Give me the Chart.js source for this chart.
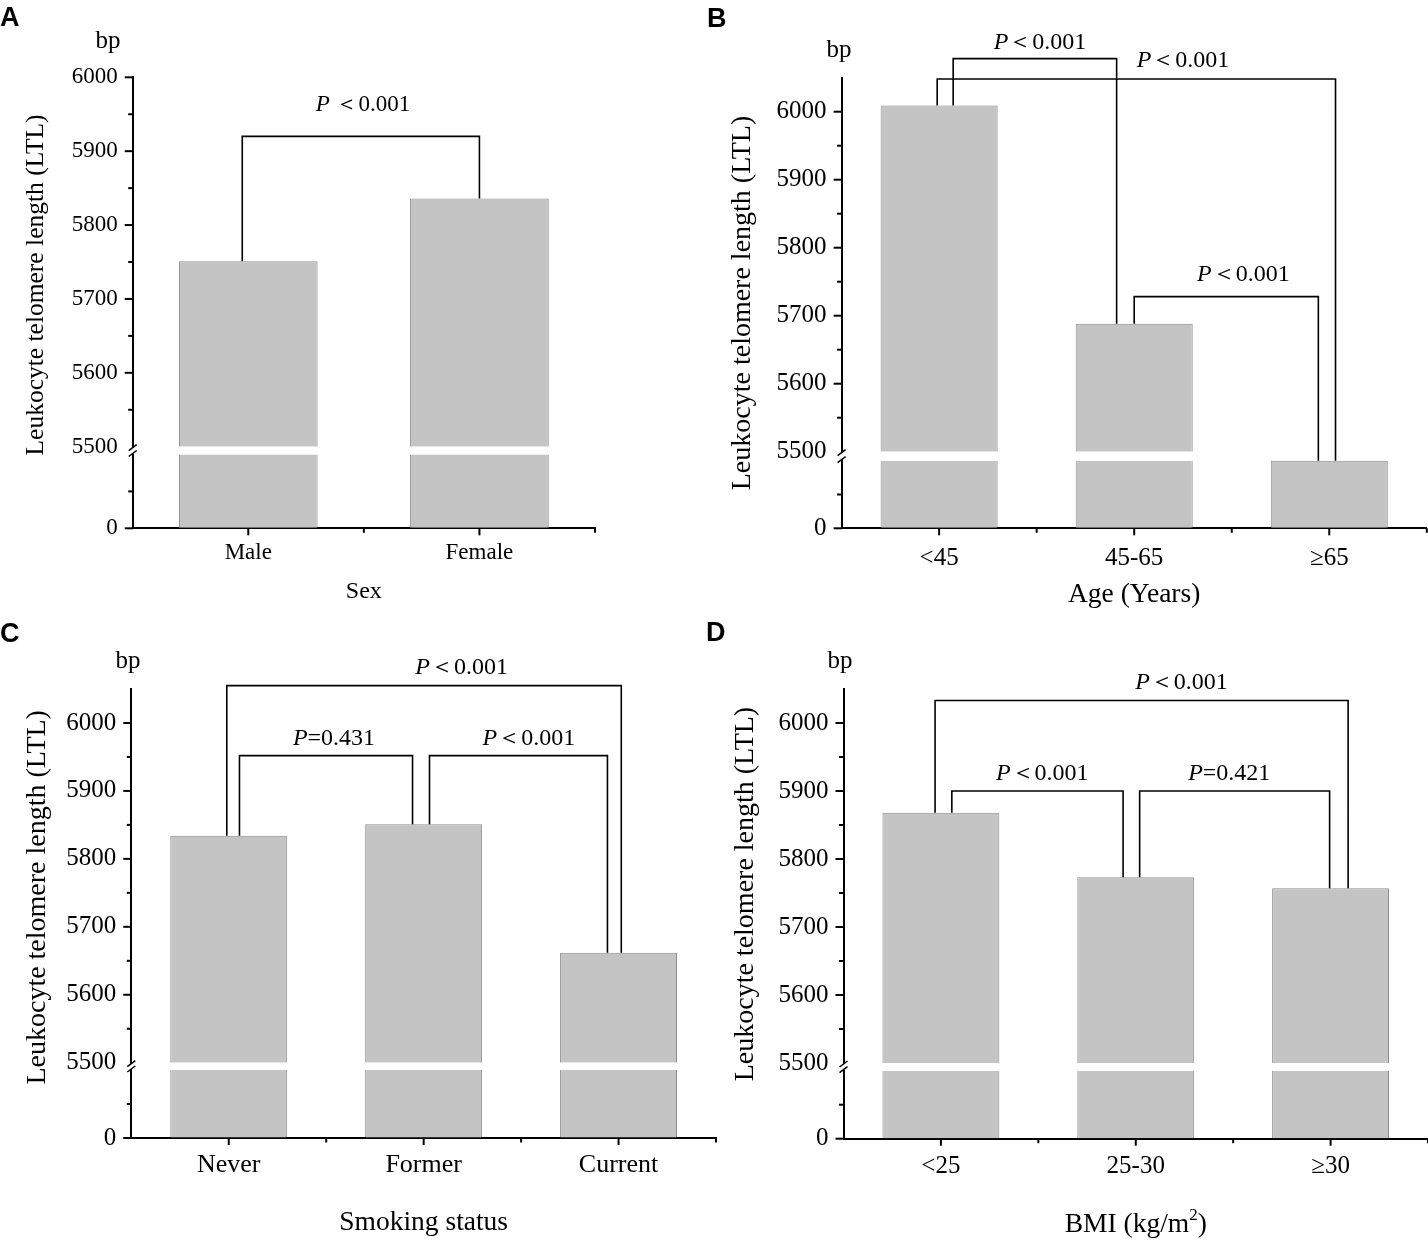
<!DOCTYPE html>
<html>
<head>
<meta charset="utf-8">
<title>Leukocyte telomere length</title>
<script src="https://cdn.jsdelivr.net/npm/chart.js@4.4.1/dist/chart.umd.min.js"></script>
<style>
  body { margin: 0; background: #fff; }
  #page { position: relative; width: 1428px; height: 1240px; background: #fff; overflow: hidden; }
  canvas { position: absolute; }
</style>
</head>
<body>
<div id="page">
  <canvas id="cA" width="700" height="620" style="left:0;top:0"></canvas>
  <canvas id="cB" width="728" height="620" style="left:700px;top:0"></canvas>
  <canvas id="cC" width="720" height="620" style="left:0;top:620px"></canvas>
  <canvas id="cD" width="728" height="620" style="left:700px;top:620px"></canvas>
</div>
<script>
// mean LTL (bp) per group
const sexLabels = ['Male', 'Female'];
const sexLTL = [5751, 5836];
const ageLabels = ['<45', '45-65', '≥65'];
const ageLTL = [6009, 5688, 5490];
const smokingLabels = ['Never', 'Former', 'Current'];
const smokingLTL = [5834, 5851, 5662];
const bmiLabels = ['<25', '25-30', '≥30'];
const bmiLTL = [5868, 5773, 5757];

// significance brackets: [group a, group b, bracket level (bp), label]
const sexTests = [[0, 1, 5920, 'P ＜0.001']];
const ageTests = [[0, 1, 6078, 'P＜0.001'], [0, 2, 6048, 'P＜0.001'], [1, 2, 5728, 'P＜0.001']];
const smokingTests = [[0, 2, 6055, 'P＜0.001'], [0, 1, 5952, 'P=0.431'], [1, 2, 5952, 'P＜0.001']];
const bmiTests = [[0, 2, 6033, 'P＜0.001'], [0, 1, 5900, 'P＜0.001'], [1, 2, 5900, 'P=0.421']];

// broken y axis
const breakAt = 5500;
const yMajorTicks = [5500, 5600, 5700, 5800, 5900, 6000];
const yMinorTicks = [5550, 5650, 5750, 5850, 5950];
const lowMajorTicks = [0];
const lowMinorTicks = [2750];

const FILL = '#c4c4c4';
const EDGE = '#8c8c8c';
const SERIF = "'Liberation Serif', 'Times New Roman', serif";
const AXIS_W = 100;

Chart.defaults.color = '#000';
Chart.defaults.font.family = SERIF;

const panels = [
  { id: 'cA', letter: 'A', letterPos: [0, 26], labels: sexLabels, values: sexLTL, tests: sexTests,
    xTitle: 'Sex', xTitleY: 598, top: 6000, lowMax: 6081, weights: [369.4, 81.6],
    padding: { left: 132.7 - AXIS_W, right: 105, top: 77.3, bottom: 31.7 },
    tickSize: 23, catSize: 23, catPad: 4, titleSize: 24, ySize: 25.5, yTitle: [96, 0.4605],
    bp: [-24.7, 48], pSize: 23,
    legs: [[-0.026, 0]], labelAt: [0.496], labelGap: [25] },
  { id: 'cB', letter: 'B', letterPos: [7, 27], labels: ageLabels, values: ageLTL, tests: ageTests,
    xTitle: 'Age (Years)', xTitleY: 602, top: 6050, lowMax: 6232, weights: [374, 76.6],
    padding: { left: 141.6 - AXIS_W, right: 1.2, top: 77.7, bottom: 31.7 },
    tickSize: 25, catSize: 25, catPad: 8, titleSize: 27.5, ySize: 28, yTitle: [99, 0.5],
    bp: [-2.6, 56.5], pSize: 24,
    legs: [[0.072, -0.09], [-0.01, 0.032], [0, -0.056]], labelAt: [0.517, 1.25, 1.56], labelGap: [10, 12, 16] },
  { id: 'cC', letter: 'C', letterPos: [0, 22], labels: smokingLabels, values: smokingLTL, tests: smokingTests,
    xTitle: 'Smoking status', xTitleY: 610, top: 6050, lowMax: 6090, weights: [373.7, 75.3],
    padding: { left: 131.3 - AXIS_W, right: 4, top: 69, bottom: 42 },
    tickSize: 25, catSize: 26, catPad: 5, titleSize: 27.5, ySize: 28, yTitle: [94, 0.464],
    bp: [-3.3, 48], pSize: 24,
    legs: [[-0.01, 0.014], [0.055, -0.057], [0.03, -0.057]], labelAt: [1.195, 0.54, 1.54], labelGap: [12, 11, 11] },
  { id: 'cD', letter: 'D', letterPos: [6, 21], labels: bmiLabels, values: bmiLTL, tests: bmiTests,
    xTitle: 'BMI (kg/m', xTitleSup: '2', xTitleY: 612, top: 6050, lowMax: 6123, weights: [374, 75.7],
    padding: { left: 143.5 - AXIS_W, right: 0, top: 69, bottom: 41.3 },
    tickSize: 25, catSize: 25, catPad: 6, titleSize: 27.5, ySize: 28, yTitle: [97.5, 0.456],
    bp: [-3.5, 48], pSize: 24,
    legs: [[-0.03, 0.09], [0.056, -0.065], [0.02, -0.005]], labelAt: [1.235, 0.52, 1.48], labelGap: [12, 11, 11] }
];

// italic P followed by the rest of the label, centred on cx
function drawPLabel(ctx, text, cx, y, size) {
  const rest = text.slice(1);
  ctx.font = 'italic ' + size + 'px ' + SERIF;
  const wP = ctx.measureText('P').width;
  ctx.font = size + 'px ' + SERIF;
  const wR = ctx.measureText(rest).width;
  const x = cx - (wP + wR) / 2;
  ctx.textAlign = 'left';
  ctx.textBaseline = 'alphabetic';
  ctx.font = 'italic ' + size + 'px ' + SERIF;
  ctx.fillText('P', x, y);
  ctx.font = size + 'px ' + SERIF;
  ctx.fillText(rest, x + wP, y);
}

function decorPlugin(p) {
  return {
    id: 'decor' + p.letter,
    afterDraw(chart) {
      const ctx = chart.ctx;
      const xs = chart.scales.x, yh = chart.scales.yHigh, yl = chart.scales.yLow;
      const area = chart.chartArea;
      const ax = area.left, axY = area.bottom;
      const topPx = v => v > breakAt ? yh.getPixelForValue(v) : yl.getPixelForValue(v);
      ctx.save();
      ctx.strokeStyle = '#000';
      ctx.fillStyle = '#000';

      // y ticks
      ctx.lineWidth = 2;
      const yTick = (py, len) => { ctx.beginPath(); ctx.moveTo(ax - len, py); ctx.lineTo(ax, py); ctx.stroke(); };
      yMajorTicks.filter(v => v !== breakAt && v <= p.top).forEach(v => yTick(yh.getPixelForValue(v), 8));
      yMinorTicks.filter(v => v <= p.top).forEach(v => yTick(yh.getPixelForValue(v), 4.5));
      lowMajorTicks.forEach(v => yTick(yl.getPixelForValue(v), 8));
      lowMinorTicks.forEach(v => yTick(yl.getPixelForValue(v), 4.5));

      // x ticks: categories and band edges
      const xTick = (px, len) => { ctx.beginPath(); ctx.moveTo(px, axY); ctx.lineTo(px, axY + len); ctx.stroke(); };
      p.labels.forEach((l, i) => { xTick(xs.getPixelForValue(i), 7); xTick(xs.getPixelForValue(i + 0.5), 4.5); });

      // axis break
      const b1 = yh.getPixelForValue(breakAt), b2 = yl.getPixelForValue(breakAt);
      ctx.fillStyle = '#fff';
      ctx.fillRect(ax - 3, Math.min(b1, b2) + 1, 6, Math.abs(b2 - b1) - 2);
      ctx.fillStyle = '#000';
      ctx.lineWidth = 1.5;
      [b1 + 1, b2 - 1].forEach(py => {
        ctx.beginPath(); ctx.moveTo(ax - 4, py + 3); ctx.lineTo(ax + 4, py - 3); ctx.stroke();
      });

      // significance brackets
      ctx.lineWidth = 1.6;
      p.tests.forEach(([a, b, level, text], k) => {
        const x1 = xs.getPixelForValue(a + p.legs[k][0]);
        const x2 = xs.getPixelForValue(b + p.legs[k][1]);
        const yb = yh.getPixelForValue(level);
        ctx.beginPath();
        ctx.moveTo(x1, topPx(p.values[a]));
        ctx.lineTo(x1, yb);
        ctx.lineTo(x2, yb);
        ctx.lineTo(x2, topPx(p.values[b]));
        ctx.stroke();
        drawPLabel(ctx, text, xs.getPixelForValue(p.labelAt[k]), yb - p.labelGap[k], p.pSize);
      });

      // unit label
      ctx.font = '25px ' + SERIF;
      ctx.textAlign = 'center';
      ctx.textBaseline = 'alphabetic';
      ctx.fillText('bp', ax + p.bp[0], p.bp[1]);

      // y title
      ctx.save();
      ctx.translate(ax - p.yTitle[0], area.top + p.yTitle[1] * (area.bottom - area.top));
      ctx.rotate(-Math.PI / 2);
      ctx.font = p.ySize + 'px ' + SERIF;
      ctx.textBaseline = 'middle';
      ctx.fillText('Leukocyte telomere length (LTL)', 0, 0);
      ctx.restore();

      // x title
      const cx = (area.left + area.right) / 2;
      ctx.font = p.titleSize + 'px ' + SERIF;
      ctx.textBaseline = 'alphabetic';
      if (p.xTitleSup) {
        const supFont = Math.round(p.titleSize * 0.62) + 'px ' + SERIF;
        const main = ctx.measureText(p.xTitle).width;
        const close = ctx.measureText(')').width;
        ctx.font = supFont;
        const sup = ctx.measureText(p.xTitleSup).width;
        const x0 = cx - (main + sup + close) / 2;
        ctx.textAlign = 'left';
        ctx.fillText(p.xTitleSup, x0 + main, p.xTitleY - p.titleSize * 0.42);
        ctx.font = p.titleSize + 'px ' + SERIF;
        ctx.fillText(p.xTitle, x0, p.xTitleY);
        ctx.fillText(')', x0 + main + sup, p.xTitleY);
      } else {
        ctx.textAlign = 'center';
        ctx.fillText(p.xTitle, cx, p.xTitleY);
      }

      // panel letter
      ctx.font = "bold 27px 'Liberation Sans', Arial, sans-serif";
      ctx.textAlign = 'left';
      ctx.fillText(p.letter, p.letterPos[0], p.letterPos[1]);
      ctx.restore();
    }
  };
}

panels.forEach(p => {
  const common = {
    backgroundColor: FILL, borderColor: EDGE, borderSkipped: false,
    grouped: false, barPercentage: 0.6, categoryPercentage: 1
  };
  new Chart(document.getElementById(p.id), {
    type: 'bar',
    data: {
      labels: p.labels,
      datasets: [
        Object.assign({}, common, {
          label: 'upper',
          yAxisID: 'yHigh',
          data: p.values.map(v => v > breakAt ? [breakAt, v] : null),
          borderWidth: { top: 1, left: 1, right: 1, bottom: 0 }
        }),
        Object.assign({}, common, {
          label: 'lower',
          yAxisID: 'yLow',
          data: p.values.map(v => [0, Math.min(v, breakAt)]),
          borderWidth: p.values.map(v => ({ top: v < breakAt ? 1 : 0, left: 1, right: 1, bottom: 0 }))
        })
      ]
    },
    options: {
      responsive: false,
      animation: false,
      layout: { padding: p.padding },
      plugins: { legend: { display: false }, tooltip: { enabled: false } },
      scales: {
        x: {
          grid: { display: true, drawOnChartArea: false, drawTicks: true, tickLength: 7, color: 'rgba(0,0,0,0)' },
          border: { display: true, color: '#000', width: 2 },
          ticks: { font: { size: p.catSize }, padding: p.catPad, color: '#000', maxRotation: 0 },
          afterFit: s => { s.height = 60; }
        },
        // stacked left axes: the one listed first sits at the bottom
        yLow: {
          type: 'linear', position: 'left', stack: 'left', stackWeight: p.weights[1],
          min: 0, max: p.lowMax,
          afterBuildTicks: s => { s.ticks = lowMajorTicks.concat(lowMinorTicks).map(v => ({ value: v })); },
          ticks: { font: { size: p.tickSize }, padding: 7, color: '#000', callback: v => lowMajorTicks.includes(v) ? String(v) : '' },
          grid: { display: true, drawOnChartArea: false, drawTicks: true, tickLength: 8, color: 'rgba(0,0,0,0)' },
          border: { display: true, color: '#000', width: 2 },
          afterFit: s => { s.width = AXIS_W; }
        },
        yHigh: {
          type: 'linear', position: 'left', stack: 'left', stackWeight: p.weights[0],
          min: breakAt, max: p.top,
          afterBuildTicks: s => { s.ticks = yMajorTicks.concat(yMinorTicks).filter(v => v <= p.top).sort((a, b) => a - b).map(v => ({ value: v })); },
          ticks: { font: { size: p.tickSize }, padding: 7, color: '#000', callback: v => yMajorTicks.includes(v) ? String(v) : '' },
          grid: { display: true, drawOnChartArea: false, drawTicks: true, tickLength: 8, color: 'rgba(0,0,0,0)' },
          border: { display: true, color: '#000', width: 2 },
          afterFit: s => { s.width = AXIS_W; }
        }
      }
    },
    plugins: [decorPlugin(p)]
  });
});
</script>
</body>
</html>
